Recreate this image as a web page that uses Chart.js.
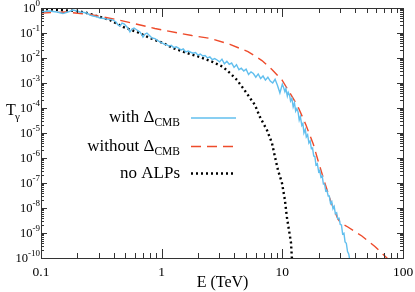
<!DOCTYPE html>
<html>
<head>
<meta charset="utf-8">
<script src="https://cdn.jsdelivr.net/npm/chart.js@4"></script>
<style>
  body { margin: 0; background: #fff; }
</style>
</head>
<body>
<canvas id="myChart" width="415" height="292"></canvas>
<script>
// with Delta_CMB (blue, noisy)
const energyBlue = [
  0.100, 0.116, 0.136, 0.152, 0.167, 0.184, 0.199, 0.21, 0.227, 0.24,
  0.255, 0.27, 0.291, 0.308, 0.333, 0.352, 0.373, 0.395, 0.418, 0.435,
  0.452, 0.469, 0.488, 0.516, 0.536, 0.546, 0.568, 0.59, 0.624, 0.661,
  0.687, 0.70, 0.728, 0.755, 0.8, 0.832, 0.88, 0.914, 0.968, 1.0,
  1.05, 1.10, 1.15, 1.20, 1.26, 1.32, 1.38, 1.45, 1.51, 1.58,
  1.66, 1.74, 1.82, 1.91, 2.00, 2.09, 2.19, 2.29, 2.40, 2.51,
  2.63, 2.75, 2.88, 3.02, 3.16, 3.31, 3.47, 3.63, 3.80, 3.98,
  4.17, 4.37, 4.57, 4.79, 5.01, 5.25, 5.50, 5.75, 6.03, 6.31,
  6.61, 6.92, 7.24, 7.59, 7.94, 8.32, 8.71, 9.12, 9.55, 10.0,
  10.2, 10.5, 10.7, 11.0, 11.2, 11.5, 11.7, 12.0, 12.3, 12.6,
  12.9, 13.2, 13.5, 13.8, 14.1, 14.5, 14.8, 15.1, 15.5, 15.8,
  16.2, 16.6, 17.0, 17.4, 17.8, 18.2, 18.6, 19.0, 19.5, 20.0,
  20.4, 20.9, 21.4, 21.9, 22.4, 22.9, 23.4, 24.0, 24.5, 25.1,
  25.7, 26.3, 26.9, 27.5, 28.2, 28.8, 29.5, 30.2, 30.9, 31.6,
  32.4, 33.1, 33.9, 34.7, 35.5, 36.3, 37.2
];
const transBlue = [
  0.69, 0.76, 0.69, 0.60, 0.69, 0.83, 0.76, 0.69, 0.66, 0.63,
  0.52, 0.48, 0.44, 0.40, 0.38, 0.36, 0.35, 0.33, 0.275, 0.21,
  0.19, 0.25, 0.23, 0.174, 0.132, 0.11, 0.145, 0.158, 0.132, 0.11,
  0.083, 0.069, 0.091, 0.10, 0.076, 0.063, 0.060, 0.052, 0.044, 0.041,
  3.6e-2, 3.4e-2, 3.0e-2, 3.2e-2, 2.6e-2, 2.8e-2, 2.5e-2, 2.1e-2, 2.3e-2, 1.75e-2,
  1.9e-2, 1.7e-2, 1.55e-2, 1.65e-2, 1.3e-2, 1.45e-2, 1.2e-2, 1.25e-2, 1.0e-2, 1.1e-2,
  8.6e-3, 9.5e-3, 8.3e-3, 7.0e-3, 9.0e-3, 5.9e-3, 7.4e-3, 5.6e-3, 6.3e-3, 4.2e-3,
  5.4e-3, 3.4e-3, 3.9e-3, 3.0e-3, 3.6e-3, 2.2e-3, 2.8e-3, 2.4e-3, 1.7e-3, 2.3e-3,
  1.5e-3, 1.9e-3, 1.3e-3, 1.7e-3, 1.2e-3, 1.0e-3, 1.4e-3, 8.0e-4, 4.0e-4, 9.0e-4,
  7.0e-4, 4.5e-4, 6.0e-4, 3.0e-4, 4.2e-4, 3.2e-4, 1.9e-4, 2.4e-4, 1.1e-4, 1.6e-4,
  7.5e-5, 9.5e-5, 7.0e-5, 3.3e-5, 4.6e-5, 2.0e-5, 2.4e-5, 1.0e-5, 1.4e-5, 7.0e-6,
  8.5e-6, 4.0e-6, 4.8e-6, 2.4e-6, 2.5e-6, 1.2e-6, 1.15e-6, 5.2e-7, 5.9e-7, 2.8e-7,
  3.2e-7, 1.7e-7, 1.9e-7, 9.0e-8, 9.0e-8, 4.8e-8, 5.2e-8, 3.0e-8, 3.0e-8, 1.5e-8,
  1.8e-8, 9.3e-9, 1.15e-8, 5.9e-9, 6.5e-9, 3.7e-9, 3.9e-9, 2.2e-9, 2.1e-9, 9.1e-10,
  9.8e-10, 4.4e-10, 3.9e-10, 1.8e-10, 1.45e-10, 7.9e-11, 5e-11
];

// without Delta_CMB (red dashed)
const energyRed = [0.1, 0.158, 0.255, 0.418, 0.612, 0.879, 1.78, 2.56, 3.68, 5.19,
  6.78, 8.2, 9.93, 11.56, 13.46, 15.7, 18.1, 19.7, 22.5, 25.3,
  28.9, 30.6, 34.9, 45.6, 58.5, 73.6, 80];
const transRed = [0.63, 0.69, 0.55, 0.35, 0.23, 0.151, 0.079, 0.060, 0.035, 0.018,
  7.9e-3, 3.47e-3, 1.32e-3, 4.0e-4, 1.15e-4, 2.09e-5, 3.47e-6, 8.3e-7, 1.0e-7, 1.74e-8,
  3.6e-9, 2.5e-9, 1.74e-9, 7.6e-10, 2.9e-10, 1.0e-10, 6e-11];

// no ALPs (black dotted)
const energyBlack = [0.1, 0.144, 0.199, 0.24, 0.308, 0.373, 0.478, 0.624, 0.80, 1.026,
  1.24, 1.62, 2.07, 2.66, 3.22, 3.68, 4.21, 4.72, 5.40, 5.93,
  6.52, 7.45, 8.2, 8.69, 9.2, 9.93, 10.5, 10.9, 11.35, 11.8, 12.0, 12.2];
const transBlack = [0.91, 0.83, 0.76, 0.63, 0.44, 0.33, 0.174, 0.11, 0.063, 0.040,
  0.025, 0.0158, 0.011, 6.9e-3, 4.4e-3, 2.5e-3, 1.32e-3, 6.3e-4, 2.5e-4, 1.32e-4,
  4.4e-5, 1.32e-5, 4.0e-6, 1.10e-6, 3.3e-7, 1.0e-7, 2.1e-8, 4.4e-9, 1.32e-9, 4.0e-10, 1.0e-10, 5e-11];

const xTickValues = [0.1, 1, 10, 100];
const xTickLabels = ['0.1', '1', '10', '100'];
const yTickPowers = [0, -1, -2, -3, -4, -5, -6, -7, -8, -9, -10];

const legendMain = ['with \u0394', 'without \u0394', 'no ALPs'];
const legendSub = ['CMB', 'CMB', ''];
const colors = ['#62bfee', '#ee4b2b', '#000000'];
const dashes = [[], [10, 6], [2, 3]];
const widths = [1.4, 1.4, 2.4];

function pts(xs, ys) {
  return xs.map((v, i) => ({x: v, y: ys[i]}));
}

const serif = '"Liberation Serif", "DejaVu Serif", serif';

const frame = {
  id: 'frame',
  afterDraw(chart) {
    const ctx = chart.ctx;
    const a = chart.chartArea;
    const x = chart.scales.x;
    const y = chart.scales.y;
    ctx.save();
    ctx.strokeStyle = '#333';
    ctx.lineWidth = 1;
    ctx.setLineDash([]);
    ctx.strokeRect(Math.round(a.left) + 0.5, Math.round(a.top) + 0.5,
      Math.round(a.right - a.left), Math.round(a.bottom - a.top));

    ctx.beginPath();
    // x ticks (bottom and top, inward)
    for (let d = -1; d <= 2; d++) {
      for (let m = 1; m <= 9; m++) {
        const v = m * Math.pow(10, d);
        if (v > 100.0001) break;
        const px = Math.round(x.getPixelForValue(v)) + 0.5;
        const len = m === 1 ? 9 : 5;
        ctx.moveTo(px, a.bottom); ctx.lineTo(px, a.bottom - len);
        ctx.moveTo(px, a.top); ctx.lineTo(px, a.top + len);
      }
    }
    // y ticks (left and right, inward)
    for (let d = -10; d <= 0; d++) {
      for (let m = 1; m <= 9; m++) {
        const v = m * Math.pow(10, d);
        if (v > 1.0001) break;
        const py = Math.round(y.getPixelForValue(v)) + 0.5;
        const len = m === 1 ? 6 : 3;
        ctx.moveTo(a.left, py); ctx.lineTo(a.left + len, py);
        ctx.moveTo(a.right, py); ctx.lineTo(a.right - len, py);
      }
    }
    ctx.stroke();

    ctx.fillStyle = '#000';
    // x labels
    ctx.font = '13.5px ' + serif;
    ctx.textAlign = 'center';
    ctx.textBaseline = 'middle';
    xTickValues.forEach((v, i) => {
      ctx.fillText(xTickLabels[i], x.getPixelForValue(v), 272);
    });
    ctx.font = '16px ' + serif;
    ctx.fillText('E (TeV)', (a.left + a.right) / 2 + 0.5, 283);

    // y labels 10^n
    ctx.textAlign = 'left';
    yTickPowers.forEach(p => {
      const py = y.getPixelForValue(Math.pow(10, p));
      ctx.font = '12.5px ' + serif;
      const w1 = ctx.measureText('10').width;
      const sup = String(p);
      ctx.font = '9px ' + serif;
      const w2 = ctx.measureText(sup).width;
      const sx = 40 - w1 - w2;
      ctx.font = '12.5px ' + serif;
      ctx.fillText('10', sx, py + 1);
      ctx.font = '9px ' + serif;
      ctx.fillText(sup, sx + w1, py - 4);
    });

    // y title T_gamma
    ctx.font = '16px ' + serif;
    ctx.fillText('T', 6, 111);
    ctx.font = '11px ' + serif;
    ctx.fillText('\u03b3', 15, 117);

    // legend
    const rows = [118, 146.5, 173.5];
    rows.forEach((ry, i) => {
      ctx.font = '11.5px ' + serif;
      const ws = legendSub[i] ? ctx.measureText(legendSub[i]).width : 0;
      ctx.font = '17px ' + serif;
      const wm = ctx.measureText(legendMain[i]).width;
      const sx = 180 - ws - wm;
      ctx.fillText(legendMain[i], sx, ry);
      if (legendSub[i]) {
        ctx.font = '11.5px ' + serif;
        ctx.fillText(legendSub[i], sx + wm, ry + 5);
      }
      ctx.beginPath();
      ctx.strokeStyle = colors[i];
      ctx.lineWidth = widths[i];
      ctx.setLineDash(dashes[i]);
      ctx.moveTo(191, ry);
      ctx.lineTo(236, ry);
      ctx.stroke();
    });
    ctx.restore();
  }
};

const data = {
  datasets: [
    {
      label: 'with \u0394CMB',
      data: pts(energyBlue, transBlue),
      borderColor: colors[0],
      borderWidth: widths[0],
      pointRadius: 0,
      tension: 0
    },
    {
      label: 'without \u0394CMB',
      data: pts(energyRed, transRed),
      borderColor: colors[1],
      borderWidth: widths[1],
      borderDash: dashes[1],
      pointRadius: 0,
      tension: 0
    },
    {
      label: 'no ALPs',
      data: pts(energyBlack, transBlack),
      borderColor: colors[2],
      borderWidth: widths[2],
      borderDash: dashes[2],
      pointRadius: 0,
      tension: 0
    }
  ]
};

const config = {
  type: 'line',
  data: data,
  options: {
    responsive: false,
    devicePixelRatio: 1,
    animation: false,
    layout: { padding: { left: 41, right: 12, top: 8, bottom: 34 } },
    plugins: { legend: { display: false }, tooltip: { enabled: false } },
    scales: {
      x: { type: 'logarithmic', min: 0.1, max: 100, display: false },
      y: { type: 'logarithmic', min: 1e-10, max: 1, display: false }
    }
  },
  plugins: [frame]
};

const myChart = new Chart(document.getElementById('myChart'), config);
</script>
</body>
</html>
